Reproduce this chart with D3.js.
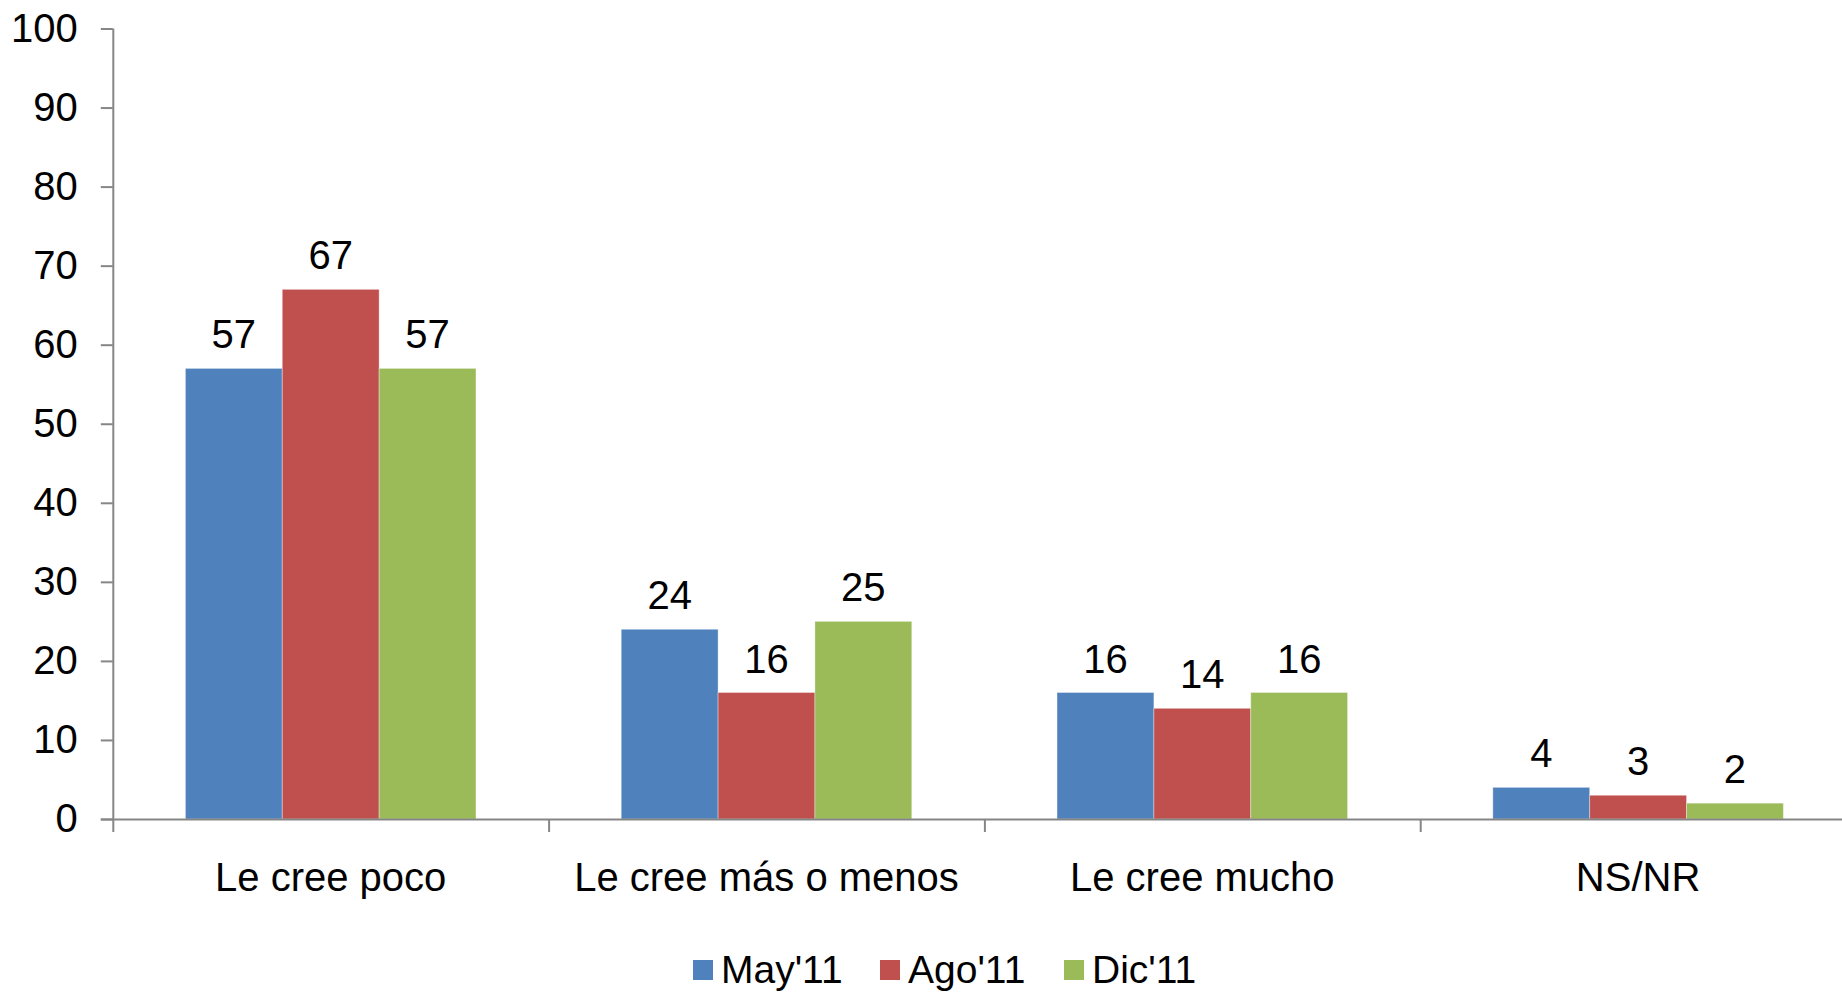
<!DOCTYPE html>
<html><head><meta charset="utf-8">
<script src="https://cdn.jsdelivr.net/npm/d3@7"></script>
<style>body{margin:0;background:#fff;overflow:hidden}svg{display:block}text{font-family:"Liberation Sans",Arial,sans-serif;fill:#000}</style>
</head><body>
<script>
const categories = ["Le cree poco", "Le cree más o menos", "Le cree mucho", "NS/NR"];
const seriesNames = ["May'11", "Ago'11", "Dic'11"];
const mayValues = [57, 24, 16, 4];
const agoValues = [67, 16, 14, 3];
const dicValues = [57, 25, 16, 2];
const colors = ["#4F81BD", "#C0504D", "#9BBB59"];
const yTicks = [0, 10, 20, 30, 40, 50, 60, 70, 80, 90, 100];

const W = 1842, H = 992;
const svg = d3.select("body").append("svg").attr("width", W).attr("height", H);
const FS = 40;
const x0 = 112.8, bandW = 435.8;
const x = d3.scaleBand().domain(categories).range([x0, x0 + bandW * categories.length]).paddingInner(0).paddingOuter(0);
const xs = d3.scaleBand().domain(seriesNames).range([0, x.bandwidth()]).paddingInner(0).paddingOuter(0.75);
const y = d3.scaleLinear().domain([0, 100]).range([819, 28.5]);

const data = [mayValues, agoValues, dicValues];
const axisColor = "#868686";

// Y axis
const yAxis = svg.append("g").attr("transform", `translate(${x0},0)`)
  .call(d3.axisLeft(y).tickValues(yTicks).tickSize(12).tickPadding(23).tickFormat(d3.format("d")));
yAxis.select(".domain").attr("stroke", axisColor).attr("stroke-width", 2).attr("d", `M0.5,${y(100)}V${y(0)}`);
yAxis.selectAll(".tick line").attr("stroke", axisColor).attr("stroke-width", 2);
yAxis.selectAll(".tick text").attr("font-size", FS).attr("font-family", "Liberation Sans, Arial, sans-serif").attr("fill", "#000");

// Bars
seriesNames.forEach((s, si) => {
  svg.append("g").selectAll("rect").data(categories).join("rect")
    .attr("x", d => x(d) + xs(s))
    .attr("width", xs.bandwidth())
    .attr("y", (d, i) => y(data[si][i]))
    .attr("height", (d, i) => y(0) - y(data[si][i]))
    .attr("fill", colors[si])
    .attr("stroke", "rgba(255,255,255,0.35)").attr("stroke-width", 1);
  svg.append("g").selectAll("text").data(categories).join("text")
    .attr("x", d => x(d) + xs(s) + xs.bandwidth() / 2)
    .attr("y", (d, i) => y(data[si][i]) - 20)
    .attr("text-anchor", "middle").attr("font-size", FS)
    .text((d, i) => data[si][i]);
});

// X axis
const xAxis = svg.append("g").attr("transform", `translate(0,${y(0)})`)
  .call(d3.axisBottom(x).tickSize(0).tickPadding(0).tickFormat(""));
xAxis.select(".domain").attr("stroke", axisColor).attr("stroke-width", 2).attr("d", `M${x0 - 12},0.5H${W + 20}`);
xAxis.selectAll(".tick").remove();
const bounds = d3.range(categories.length + 1).map(i => x0 + i * bandW);
svg.append("g").selectAll("line").data(bounds).join("line")
  .attr("x1", d => d + 0.5).attr("x2", d => d + 0.5)
  .attr("y1", y(0)).attr("y2", y(0) + 13)
  .attr("stroke", axisColor).attr("stroke-width", 2);
svg.append("g").selectAll("text").data(categories).join("text")
  .attr("x", d => x(d) + x.bandwidth() / 2)
  .attr("y", 891)
  .attr("text-anchor", "middle").attr("font-size", FS)
  .text(d => d);

// Legend
const legendX = [693, 880, 1064];
const lg = svg.append("g").selectAll("g").data(seriesNames).join("g")
  .attr("transform", (d, i) => `translate(${legendX[i]},0)`);
lg.append("rect").attr("x", 0).attr("y", 960).attr("width", 20).attr("height", 20).attr("fill", (d, i) => colors[i]);
lg.append("text").attr("x", 28).attr("y", 983).attr("font-size", 39).text(d => d);
</script>
</body></html>
